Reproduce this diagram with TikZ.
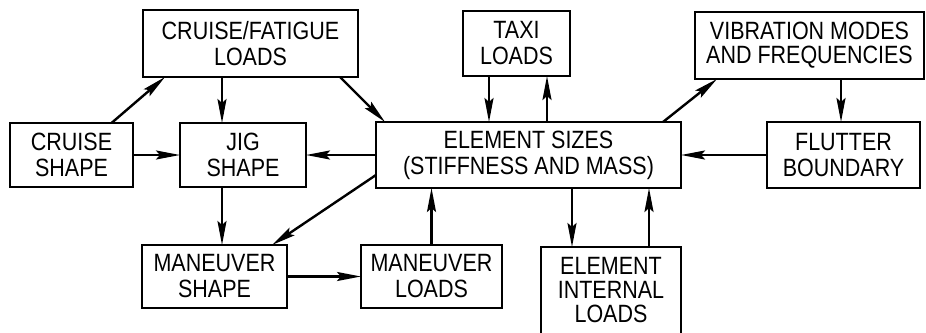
\documentclass[tikz,border=0pt]{standalone}
\usepackage{fontspec}
\newfontfamily\condfont[FakeStretch=0.86]{Liberation Sans}
\usetikzlibrary{arrows.meta,positioning}
\tikzset{
  box/.style={
    draw, line width=2.4pt, align=center, inner sep=0pt, outer sep=0pt,
    font=\condfont\fontsize{25}{26}\selectfont, minimum height=64pt
  },
  tight/.style={font=\condfont\fontsize{25}{24}\selectfont},
  arr/.style={-{Stealth[length=24pt,width=9pt,inset=4pt]}, line width=2.4pt}
}

\begin{document}
\begin{tikzpicture}[x=1pt, y=-1pt]
  \useasboundingbox (0,0) rectangle (926,332);

  % --- middle row -------------------------------------------------------
  \node[box, minimum width=123pt] (cru) at (71.5,155) {CRUISE\\SHAPE};
  \node[box, minimum width=126pt, right=47pt of cru] (jig) {JIG\\SHAPE};
  \node[box, minimum width=305pt, minimum height=66pt, right=70pt of jig] (siz)
    {ELEMENT SIZES\\(STIFFNESS AND MASS)};
  \node[box, minimum width=153pt, minimum height=66pt, right=86pt of siz] (flu)
    {FLUTTER\\BOUNDARY};

  % --- top row ----------------------------------------------------------
  \node[box, minimum width=215pt, minimum height=67pt] (fat) at (250.5,43.5)
    {CRUISE/FATIGUE\\LOADS};
  \node[box, minimum width=107pt, minimum height=65pt] (taxi) at (516.5,43.5)
    {TAXI\\LOADS};
  \node[box, tight, minimum width=229pt, minimum height=67pt] (vib) at (809.5,45.5)
    {VIBRATION MODES\\AND FREQUENCIES};

  % --- bottom row -------------------------------------------------------
  \node[box, minimum width=145pt, minimum height=63pt] (msh) at (214.5,276.5)
    {MANEUVER\\SHAPE};
  \node[box, minimum width=141pt, minimum height=63pt, right=74pt of msh] (mld)
    {MANEUVER\\LOADS};
  \node[box, font=\condfont\fontsize{25}{24}\selectfont, minimum width=140pt,
    minimum height=87pt] (eil) at (611,290.5) {ELEMENT\\INTERNAL\\LOADS};

  % --- connectors -------------------------------------------------------
  \draw[arr] ([xshift=40pt]cru.north) -- ([xshift=22pt]fat.south west);
  \draw[arr] ([xshift=-21pt]jig.north |- fat.south) -- ([xshift=-21pt]jig.north);
  \draw[arr] ([xshift=-18pt]fat.south east) -- ([xshift=9pt]siz.north west);
  \draw[arr] (cru.east) -- (jig.west);
  \draw[arr] (siz.west) -- (jig.east);
  \draw[arr] ([xshift=-27.5pt]taxi.south) -- ([xshift=-27.5pt]taxi.south |- siz.north);
  \draw[arr] ([xshift=30.5pt]taxi.south |- siz.north) -- ([xshift=30.5pt]taxi.south);
  \draw[arr] ([xshift=-18pt]siz.north east) -- ([xshift=22pt]vib.south west);
  \draw[arr] ([xshift=31.5pt]vib.south) -- ([xshift=31.5pt]vib.south |- flu.north);
  \draw[arr] (flu.west) -- (siz.east);
  \draw[arr] ([xshift=-21pt]jig.south) -- ([xshift=-21pt]jig.south |- msh.north);
  \draw[arr] ([yshift=-20pt]siz.west) -- ([xshift=-15pt]msh.north east);
  \draw[arr] (msh.east) -- (mld.west);
  \draw[arr] (mld.north) -- (mld.north |- siz.south);
  \draw[arr] ([xshift=-39pt]eil.north |- siz.south) -- ([xshift=-39pt]eil.north);
  \draw[arr] ([xshift=38pt]eil.north) -- ([xshift=38pt]eil.north |- siz.south);
\end{tikzpicture}
\end{document}
